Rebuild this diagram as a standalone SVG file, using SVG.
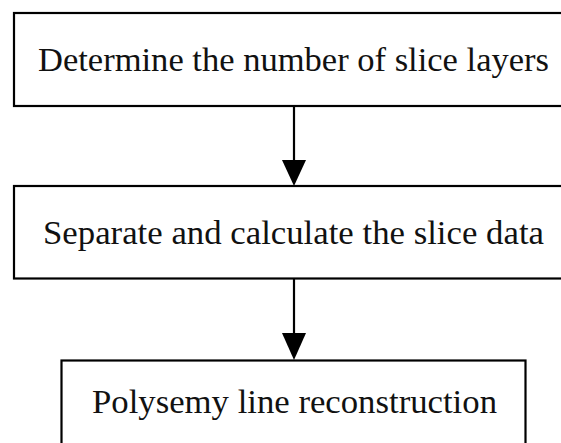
<svg xmlns="http://www.w3.org/2000/svg" width="561" height="443" viewBox="0 0 561 443">
<style>
.box{fill:#fff;stroke:#000;stroke-width:2.2}
.lbl{font-family:"Liberation Serif","DejaVu Serif",serif;font-size:34px;fill:#111}
.conn{stroke:#000;stroke-width:2.2;fill:none}
</style>
<rect width="561" height="443" fill="#fff"/>
<g id="n1">
<rect class="box" x="14" y="13" width="570" height="93"/>
<text class="lbl" x="38" y="71" textLength="511" lengthAdjust="spacingAndGlyphs">Determine the number of slice layers</text>
</g>
<g id="n2">
<rect class="box" x="14" y="186" width="570" height="92.5"/>
<text class="lbl" x="43" y="244" textLength="501" lengthAdjust="spacingAndGlyphs">Separate and calculate the slice data</text>
</g>
<g id="n3">
<rect class="box" x="61.5" y="360.5" width="464" height="100"/>
<text class="lbl" x="92" y="413" textLength="405" lengthAdjust="spacingAndGlyphs">Polysemy line reconstruction</text>
</g>
<g id="connectors">
<line class="conn" x1="294" y1="106" x2="294" y2="162"/>
<path d="M282,160 L306,160 L294,186 Z" fill="#000"/>
<line class="conn" x1="294" y1="278.5" x2="294" y2="335"/>
<path d="M282,333 L306,333 L294,360 Z" fill="#000"/>
</g>
</svg>
